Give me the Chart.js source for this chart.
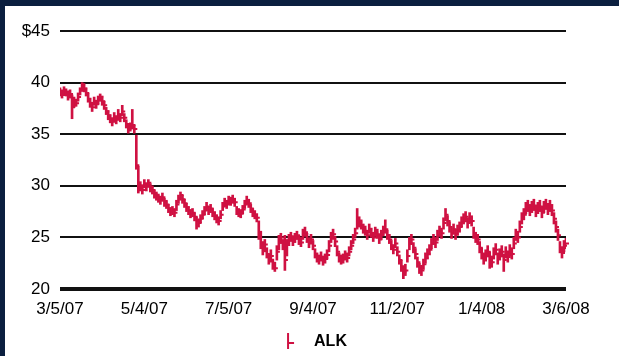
<!DOCTYPE html>
<html>
<head>
<meta charset="utf-8">
<script src="https://cdn.jsdelivr.net/npm/chart.js@4/dist/chart.umd.min.js"></script>
<style>
  body { margin: 0; background: #0b1f3f; width: 619px; height: 356px; overflow: hidden; }
  #panel { position: absolute; left: 5px; top: 6px; width: 614px; height: 350px; background: #fff; overflow: hidden; }
</style>
</head>
<body>
<div id="panel"><canvas id="stock"></canvas></div>
<script>
const tickDates = ['3/5/07', '5/4/07', '7/5/07', '9/4/07', '11/2/07', '1/4/08', '3/6/08'];
const tickEvery = 42;

// daily high / low / close, ALK
const highs = [
  39.5, 39.3, 39.6, 39.4, 39.2, 39.3, 38.8, 38.6, 38.4, 39.0,
  39.5, 40.0, 39.9, 39.5, 39.0, 38.5, 38.1, 38.6, 38.3, 38.7,
  38.9, 38.7, 38.2, 37.6, 37.3, 36.9, 36.6, 37.1, 36.8, 37.4,
  37.0, 37.8, 37.0, 36.4, 35.9, 36.1, 37.4, 35.9, 34.9, 31.9,
  30.4, 30.1, 30.6, 30.3, 30.6, 30.2, 30.0, 29.6, 29.4, 29.2,
  29.0, 29.3, 28.8, 28.6, 28.2, 27.9, 28.0, 27.8, 28.6, 29.1,
  29.4, 29.1, 28.7, 28.3, 28.0, 27.7, 27.8, 27.4, 27.0, 26.8,
  27.2, 27.6, 28.0, 28.4, 28.0, 28.2, 27.8, 27.5, 27.2, 27.0,
  27.6, 28.4, 28.8, 28.6, 29.0, 28.9, 29.1, 28.8, 28.0, 27.8,
  27.7, 28.1, 28.6, 29.0, 28.7, 28.2, 27.8, 27.6, 27.3, 26.6,
  25.6, 24.6, 24.8, 24.0, 23.4, 23.8, 22.9, 22.6, 24.2, 25.2,
  25.4, 24.8, 25.2, 24.8, 25.3, 25.5, 25.1, 25.4, 25.6, 25.2,
  25.0, 25.8, 26.0, 25.4, 24.9, 25.3, 24.7, 23.9, 23.5, 23.3,
  23.6, 23.2, 23.4, 23.8, 24.7, 25.5, 25.8, 25.1, 24.2, 23.5,
  23.3, 23.4, 23.7, 23.5, 24.1, 24.7, 25.3, 25.9, 27.8, 27.0,
  26.7, 26.3, 26.1, 25.7, 26.3, 25.9, 25.5, 26.0, 25.8, 25.3,
  25.7, 26.1, 26.7, 25.7, 25.3, 24.7, 24.3, 24.9, 24.1, 23.3,
  22.8, 22.2, 22.4, 23.8, 25.0, 25.3, 24.5, 23.9, 23.1, 22.5,
  22.3, 22.9, 23.5, 23.9, 24.3, 24.9, 25.3, 25.0, 25.7, 26.1,
  25.9, 26.9, 27.8, 27.1, 26.5, 25.9, 26.3, 25.8, 26.2, 26.5,
  27.0, 27.3, 27.5, 26.9, 27.4, 27.1, 26.0, 25.5, 25.3, 24.6,
  24.0, 23.5, 23.8, 24.2, 23.6, 23.2, 24.0, 24.4, 23.5, 23.9,
  24.2, 23.4, 24.1, 23.7, 24.3, 24.0, 25.0, 25.8, 25.6, 26.6,
  27.4, 27.8, 28.4, 28.6, 28.2, 28.5, 28.7, 28.1, 28.4, 28.6,
  28.0, 28.5, 28.7, 28.3, 28.6, 28.2, 27.4, 26.6, 25.8, 24.6,
  24.1, 24.7, 24.9
];
const lows = [
  38.7, 38.5, 38.8, 38.7, 38.3, 38.5, 36.5, 37.6, 37.7, 38.2,
  38.8, 39.2, 39.1, 38.7, 38.1, 37.6, 37.2, 37.8, 37.5, 37.9,
  38.2, 37.8, 37.4, 36.9, 36.4, 36.1, 35.8, 36.3, 36.0, 36.5,
  36.2, 36.8, 36.2, 35.6, 35.1, 35.3, 35.5, 35.1, 31.6, 29.3,
  29.5, 29.2, 29.8, 29.5, 29.9, 29.4, 29.2, 28.8, 28.6, 28.4,
  28.2, 28.5, 28.0, 27.8, 27.4, 27.1, 27.2, 27.0, 27.6, 28.3,
  28.6, 28.3, 27.9, 27.5, 27.2, 26.9, 27.0, 26.6, 25.8, 26.0,
  26.4, 26.8, 27.2, 27.6, 27.2, 27.4, 27.0, 26.7, 26.4, 26.2,
  26.8, 27.6, 28.0, 27.8, 28.2, 28.1, 28.3, 28.0, 27.2, 27.0,
  26.9, 27.3, 27.8, 28.2, 27.9, 27.4, 27.0, 26.8, 26.5, 24.8,
  23.9, 23.3, 23.6, 23.0, 22.4, 22.6, 21.9, 21.7, 22.8, 23.8,
  24.4, 23.8, 21.8, 23.2, 24.2, 24.6, 24.2, 24.5, 24.8, 24.3,
  24.1, 24.8, 25.1, 24.5, 24.0, 24.4, 23.8, 23.0, 22.6, 22.4,
  22.7, 22.3, 22.5, 22.9, 23.6, 24.5, 24.8, 24.1, 23.2, 22.6,
  22.4, 22.5, 22.8, 22.6, 23.2, 23.8, 24.4, 25.0, 25.8, 26.0,
  25.8, 25.4, 25.2, 24.8, 25.4, 25.0, 24.6, 25.1, 24.9, 24.4,
  24.8, 25.2, 25.4, 24.8, 24.4, 23.8, 23.4, 24.0, 23.2, 22.4,
  21.7, 21.0, 21.3, 22.6, 23.8, 24.3, 23.5, 22.9, 22.1, 21.5,
  21.3, 21.9, 22.5, 22.9, 23.3, 23.9, 24.3, 24.0, 24.7, 25.1,
  24.9, 25.8, 26.6, 26.1, 25.5, 24.9, 25.3, 24.8, 25.2, 25.5,
  26.0, 26.3, 26.5, 25.9, 26.4, 26.1, 24.9, 24.5, 24.3, 23.5,
  22.9, 22.4, 22.7, 23.1, 22.0, 22.1, 22.9, 23.3, 22.4, 22.8,
  23.1, 21.7, 23.0, 22.6, 23.2, 22.9, 23.9, 24.7, 24.5, 25.5,
  26.3, 26.7, 27.3, 27.5, 27.1, 27.4, 27.6, 27.0, 27.3, 27.5,
  26.9, 27.4, 27.7, 27.2, 27.5, 27.1, 26.3, 25.5, 24.7, 23.5,
  23.0, 23.6, 23.9
];
const closes = [
  39.0, 38.8, 39.2, 39.0, 38.6, 38.9, 37.6, 38.2, 38.0, 38.6,
  39.2, 39.8, 39.4, 39.0, 38.4, 38.0, 37.6, 38.2, 37.9, 38.3,
  38.6, 38.2, 37.8, 37.2, 36.8, 36.5, 36.2, 36.7, 36.4, 36.9,
  36.6, 37.2, 36.6, 36.0, 35.5, 35.7, 35.9, 35.5, 32.0, 29.8,
  30.0, 29.6, 30.2, 29.9, 30.3, 29.8, 29.6, 29.2, 29.0, 28.8,
  28.6, 28.9, 28.4, 28.2, 27.8, 27.5, 27.6, 27.4, 28.2, 28.8,
  29.1, 28.7, 28.3, 27.9, 27.6, 27.3, 27.4, 27.0, 26.6, 26.4,
  26.8, 27.2, 27.6, 28.0, 27.6, 27.8, 27.4, 27.1, 26.8, 26.6,
  27.2, 28.0, 28.4, 28.2, 28.6, 28.5, 28.7, 28.4, 27.6, 27.4,
  27.3, 27.7, 28.2, 28.6, 28.3, 27.8, 27.4, 27.2, 26.9, 25.2,
  24.4, 23.8, 24.3, 23.4, 22.8, 23.2, 22.4, 22.0, 23.6, 24.6,
  25.0, 24.2, 22.8, 24.3, 24.8, 25.1, 24.6, 24.9, 25.2, 24.7,
  24.5, 25.3, 25.5, 24.9, 24.4, 24.8, 24.2, 23.4, 23.0, 22.8,
  23.1, 22.7, 22.9, 23.3, 24.2, 25.0, 25.3, 24.6, 23.6, 23.0,
  22.8, 22.9, 23.2, 23.0, 23.6, 24.2, 24.8, 25.4, 26.2, 26.5,
  26.2, 25.8, 25.6, 25.2, 25.8, 25.4, 25.0, 25.5, 25.3, 24.8,
  25.2, 25.6, 25.8, 25.2, 24.8, 24.2, 23.8, 24.4, 23.6, 22.8,
  22.2, 21.6, 21.8, 23.2, 24.4, 24.8, 24.0, 23.4, 22.6, 22.0,
  21.8, 22.4, 23.0, 23.4, 23.8, 24.4, 24.8, 24.5, 25.2, 25.6,
  25.4, 26.4, 27.2, 26.6, 26.0, 25.4, 25.8, 25.3, 25.7, 26.0,
  26.5, 26.8, 27.0, 26.4, 26.9, 26.6, 25.4, 25.0, 24.8, 24.0,
  23.4, 22.9, 23.2, 23.6, 23.0, 22.6, 23.4, 23.8, 22.9, 23.3,
  23.6, 22.8, 23.5, 23.1, 23.7, 23.4, 24.4, 25.2, 25.0, 26.0,
  26.8, 27.2, 27.8, 28.0, 27.6, 27.9, 28.1, 27.5, 27.8, 28.0,
  27.4, 27.9, 28.2, 27.7, 28.0, 27.6, 26.8, 26.0, 25.2, 24.0,
  23.5, 24.2, 24.4
];

const RED = '#cf1142';
const FONT = '"Liberation Sans", Arial, sans-serif';

// legend marker: vertical stroke with a close tick on the right,
// padded on the left so the label sits where it should
const marker = document.createElement('canvas');
marker.width = 82;
marker.height = 18;
(function () {
  const m = marker.getContext('2d');
  m.strokeStyle = RED;
  m.lineWidth = 2;
  m.beginPath();
  m.moveTo(64, 0); m.lineTo(64, 16);
  m.moveTo(64, 10); m.lineTo(70, 10);
  m.stroke();
})();

// small horizontal tick at each day's close
const closeTicks = {
  id: 'closeTicks',
  afterDatasetsDraw(chart) {
    const meta = chart.getDatasetMeta(0);
    const y = chart.scales.y;
    const ctx = chart.ctx;
    ctx.save();
    ctx.strokeStyle = RED;
    ctx.lineWidth = 2;
    ctx.beginPath();
    meta.data.forEach((bar, i) => {
      const py = y.getPixelForValue(closes[i]);
      ctx.moveTo(bar.x, py);
      ctx.lineTo(bar.x + 3, py);
    });
    ctx.stroke();
    ctx.restore();
  }
};

const ctx = document.getElementById('stock').getContext('2d');
ctx.canvas.width = 614;
ctx.canvas.height = 354;

new Chart(ctx, {
  type: 'bar',
  data: {
    labels: closes.map((c, i) => i),
    datasets: [{
      label: 'ALK',
      data: lows.map((l, i) => [l, highs[i]]),
      backgroundColor: RED,
      borderWidth: 0,
      barThickness: 2,
      pointStyle: marker
    }]
  },
  options: {
    responsive: false,
    animation: false,
    layout: { padding: { top: 25, right: 53, bottom: 0, left: 0 } },
    scales: {
      x: {
        offset: false,
        grid: { display: false },
        border: { display: false },
        ticks: {
          autoSkip: false,
          maxRotation: 0,
          padding: 2,
          color: '#000',
          font: { family: FONT, size: 17 },
          callback: (v, i) => (i % tickEvery === 0 ? tickDates[i / tickEvery] : null)
        },
        afterFit: s => { s.height = 41; }
      },
      y: {
        min: 20,
        max: 45,
        grid: {
          color: '#111',
          lineWidth: c => (c.tick && c.tick.value === 20 ? 4 : 2),
          drawTicks: false
        },
        border: { display: false },
        ticks: {
          stepSize: 5,
          padding: 10,
          color: '#000',
          font: { family: FONT, size: 17 },
          callback: v => (v === 45 ? '$45' : v)
        },
        afterFit: s => { s.width = 55; }
      }
    },
    plugins: {
      tooltip: { enabled: false },
      legend: {
        position: 'bottom',
        labels: {
          usePointStyle: true,
          pointStyleWidth: 82,
          padding: 4,
          color: '#000',
          font: { family: FONT, size: 16, weight: 'bold' }
        }
      }
    }
  },
  plugins: [closeTicks]
});
</script>
</body>
</html>
